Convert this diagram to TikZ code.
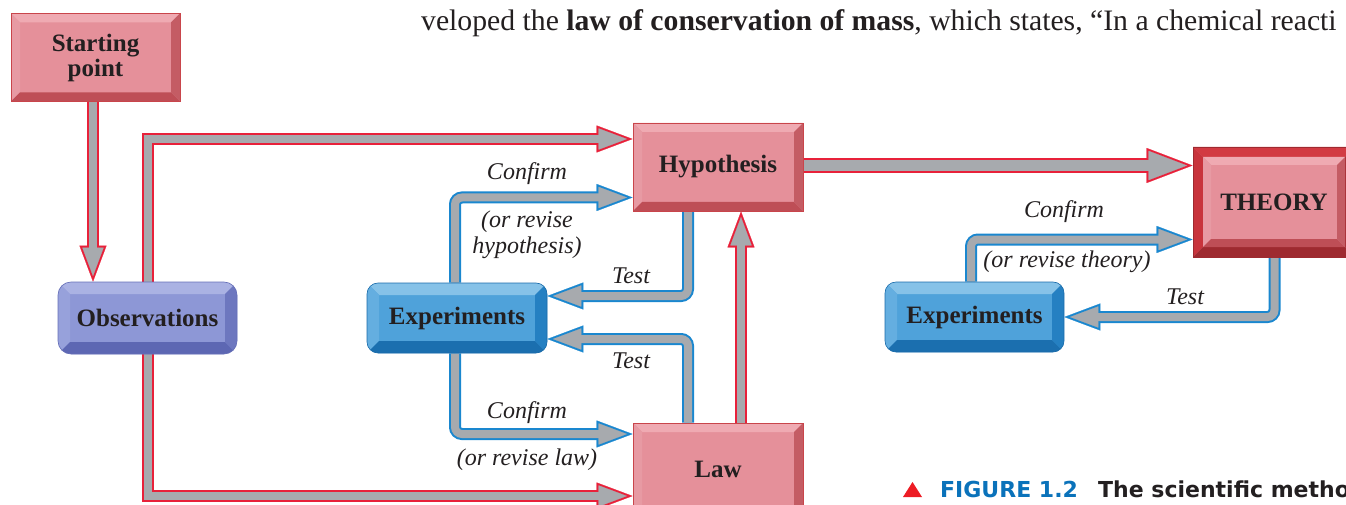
\documentclass[tikz,border=0pt]{standalone}
\usepackage{fontspec}
\setmainfont{Liberation Serif}
\newfontfamily\capfont{DejaVu Sans}
\usetikzlibrary{arrows.meta,calc,backgrounds}
\definecolor{ink}{HTML}{231F20}
\definecolor{arrred}{HTML}{E8213A}
\definecolor{arrblue}{HTML}{1A87CF}
\definecolor{shaftgray}{HTML}{A7AAAE}
\definecolor{redface}{HTML}{E5909A}
\definecolor{redtop}{HTML}{EFAAB2}
\definecolor{redleft}{HTML}{E79AA3}
\definecolor{redbot}{HTML}{BE4E56}
\definecolor{redright}{HTML}{C45C64}
\definecolor{rededge}{HTML}{C9454B}
\definecolor{dftop}{HTML}{D23A42}
\definecolor{dfleft}{HTML}{C8343C}
\definecolor{dfbot}{HTML}{9E2A30}
\definecolor{dfright}{HTML}{A82E34}
\definecolor{blueface}{HTML}{4FA2DA}
\definecolor{bluetop}{HTML}{86C2E8}
\definecolor{blueleft}{HTML}{64AEE0}
\definecolor{bluebot}{HTML}{1B6FAF}
\definecolor{blueright}{HTML}{2580C2}
\definecolor{blueedge}{HTML}{1C6CAA}
\definecolor{purpface}{HTML}{8D97D6}
\definecolor{purptop}{HTML}{AAB2E3}
\definecolor{purpleft}{HTML}{97A1DB}
\definecolor{purpbot}{HTML}{5D67B3}
\definecolor{purpright}{HTML}{6D77BF}
\definecolor{purpedge}{HTML}{6770B8}
\definecolor{capblue}{HTML}{0A72BA}
\definecolor{capred}{HTML}{ED1C24}
\newcommand\bevelring[6]{%
  \path (path picture bounding box.south west) ++(#6,#6) coordinate (bSW);
  \path (path picture bounding box.north east) ++(-#6,-#6) coordinate (bNE);
  \path (bSW) ++(#5,#5) coordinate (iSW);
  \path (bNE) ++(-#5,-#5) coordinate (iNE);
  \fill[#1, sharp corners] (bSW |- bNE) -- (bNE) -- (iNE) -- (iSW |- iNE) -- cycle;
  \fill[#2, sharp corners] (bSW |- bNE) -- (iSW |- iNE) -- (iSW) -- (bSW) -- cycle;
  \fill[#3, sharp corners] (bSW) -- (iSW) -- (iNE |- iSW) -- (bNE |- bSW) -- cycle;
  \fill[#4, sharp corners] (bNE |- bSW) -- (iNE |- iSW) -- (iNE) -- (bNE) -- cycle;
}
\tikzset{
  box/.style={inner sep=0pt, text=ink, align=center, font=\bfseries\fontsize{25}{25}\selectfont},
  redbox/.style={box, fill=redface, draw=rededge, line width=0.8pt,
    path picture={\bevelring{redtop}{redleft}{redbot}{redright}{9pt}{0pt}}},
  bluebox/.style={box, rounded corners=11pt, fill=blueface, draw=blueedge, line width=0.6pt,
    path picture={\bevelring{bluetop}{blueleft}{bluebot}{blueright}{12pt}{0pt}}},
  purpbox/.style={box, rounded corners=13pt, fill=purpface, draw=purpedge, line width=0.6pt,
    path picture={\bevelring{purptop}{purpleft}{purpbot}{purpright}{12pt}{0pt}}},
  theorybox/.style={box, fill=redface, draw=dfbot, line width=0.8pt,
    path picture={\bevelring{dftop}{dfleft}{dfbot}{dfright}{10pt}{0pt}\bevelring{redtop}{redleft}{redbot}{redright}{8pt}{10pt}}},
  lbl/.style={anchor=base, inner sep=0pt, text=ink, font=\itshape\fontsize{24}{27}\selectfont},
  fat/.style={
    preaction={draw=#1, line width=12pt, shorten >=28pt},
    preaction={draw=#1, line width=0.2pt, shorten >=0pt, -{Triangle[length=36pt,width=27pt]}},
    preaction={draw=shaftgray, line width=0.2pt, shorten >=5.6pt, -{Triangle[length=28.4pt,width=21.2pt]}},
    draw=shaftgray, line width=8pt, shorten >=28pt},
  fatter/.style={
    preaction={draw=#1, line width=15pt, shorten >=36pt},
    preaction={draw=#1, line width=0.2pt, shorten >=0pt, -{Triangle[length=46pt,width=35pt]}},
    preaction={draw=shaftgray, line width=0.2pt, shorten >=5.6pt, -{Triangle[length=38.4pt,width=29.2pt]}},
    draw=shaftgray, line width=11pt, shorten >=36pt},
  rnd/.style={rounded corners=7pt},
}
\begin{document}
\begin{tikzpicture}[x=1pt,y=-1pt]
\useasboundingbox (0,0) rectangle (1346,505);
\clip (0,0) rectangle (1346,505);
% boxes
\node[redbox, minimum width=169pt, minimum height=88pt] (start) at (95.5,57.5) {Starting\\point};
\node[purpbox, minimum width=179pt, minimum height=72pt] (obs) at (147.5,318) {Observations};
\node[redbox, minimum width=170pt, minimum height=88pt] (hyp) at (718,167) {Hypothesis};
\node[bluebox, minimum width=180pt, minimum height=70pt] (exp1) at (457,318) {Experiments};
\node[redbox, minimum width=170pt, minimum height=92pt] (law) at (718,469) {Law};
\node[theorybox, minimum width=162pt, minimum height=110pt] (theory) at (1274,202) {THEORY};
\node[bluebox, minimum width=179pt, minimum height=70pt] (exp2) at (974.5,317) {Experiments};
% labels
\node[lbl] (c1) at (527,180) {Confirm};
\node[lbl] (r1a) at (527,227) {(or revise};
\node[lbl] (r1b) at (527,253) {hypothesis)};
\node[lbl] (t1) at (631,283) {Test};
\node[lbl] (t2) at (631,368) {Test};
\node[lbl] (c2) at (527,418) {Confirm};
\node[lbl] (r2) at (527,465) {(or revise law)};
\node[lbl] (c3) at (1064,218) {Confirm};
\node[lbl] (r3) at (1067,267) {(or revise theory)};
\node[lbl] (t3) at (1185,304) {Test};
% connectors
\begin{scope}[on background layer]
\draw[fat=arrred] ([xshift=-2.5pt]start.south) -- ([xshift=-2.5pt]start.south |- obs.north);
\draw[fat=arrred] (obs.north) |- ([yshift=28pt]hyp.west);
\draw[fat=arrred] (obs.south) |- ([yshift=-27pt]law.west);
\draw[fatter=arrred] ([yshift=1.5pt]hyp.east) -- ([yshift=1.5pt]hyp.east -| theory.west);
\draw[fat=arrred] ([xshift=23pt]law.north) -- ([xshift=23pt]hyp.south);
\draw[fat=arrblue, rnd] ([xshift=-2pt]exp1.north) |- ([yshift=-30.5pt]hyp.west);
\draw[fat=arrblue, rnd] ([xshift=-30pt]hyp.south) |- ([yshift=22pt]exp1.east);
\draw[fat=arrblue, rnd] ([xshift=-30pt]law.north) |- ([yshift=-21pt]exp1.east);
\draw[fat=arrblue, rnd] ([xshift=-2pt]exp1.south) |- ([yshift=35pt]law.west);
\draw[fat=arrblue, rnd] ([xshift=0.5pt]theory.south) |- (exp2.east);
\draw[fat=arrblue, rnd] ([xshift=-3.5pt]exp2.north) |- ([yshift=-37.5pt]theory.west);
\end{scope}
% surrounding text
\node[anchor=base west, inner sep=0pt, text=ink, font=\fontsize{29.7}{32}\selectfont] (para) at (421,31)
  {veloped the \textbf{law of conservation of mass}, which states, “In a chemical reacti};
\fill[capred] (903,497) -- (922,497) -- (912.5,482) -- cycle;
\node[anchor=base west, inner sep=0pt, text=capblue, font=\capfont\bfseries\fontsize{22}{24}\selectfont] (fig) at (940,497) {FIGURE 1.2};
\node[anchor=base west, inner sep=0pt, text=ink, font=\capfont\bfseries\fontsize{22}{24}\selectfont] (captxt) at (1098,497) {The scientific metho};
\end{tikzpicture}
\end{document}
